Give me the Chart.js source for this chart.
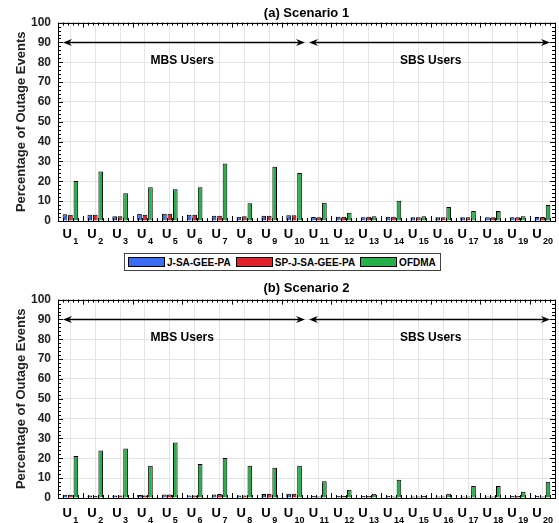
<!DOCTYPE html>
<html>
<head>
<meta charset="utf-8">
<script src="https://cdn.jsdelivr.net/npm/chart.js@4.4.1/dist/chart.umd.min.js"></script>
<style>
  body { margin: 0; background: #fff; font-family: "Liberation Sans", Arial, sans-serif; }
  #wrap { position: relative; width: 559px; height: 523px; }
  .cv { position: absolute; left: 0; }
  #legend { position: absolute; left: 124px; top: 253px; width: 315px; height: 16px;
            border: 1px solid #444; display: flex; align-items: center;
            font-weight: bold; font-size: 10px; color: #000; }
  .sw { width: 35px; height: 8px; border: 1px solid #000; margin-left: 5px; margin-right: 2px; }
  .sw.first { margin-left: 3px; }
</style>
</head>
<body>
<div id="wrap">
  <canvas id="c1" class="cv" style="top:0px" width="559" height="250"></canvas>
  <div id="legend">
    <span class="sw first" style="background:#3a6cf4"></span><span>J-SA-GEE-PA</span>
    <span class="sw" style="background:#e3212b"></span><span>SP-J-SA-GEE-PA</span>
    <span class="sw" style="background:#25b04b"></span><span>OFDMA</span>
  </div>
  <canvas id="c2" class="cv" style="top:277px" width="559" height="246"></canvas>
</div>
<script>
// categories
var users = ['U1','U2','U3','U4','U5','U6','U7','U8','U9','U10',
             'U11','U12','U13','U14','U15','U16','U17','U18','U19','U20'];
var yTicks = [0, 10, 20, 30, 40, 50, 60, 70, 80, 90, 100];
var seriesNames = ['J-SA-GEE-PA', 'SP-J-SA-GEE-PA', 'OFDMA'];
var seriesColors = ['#3a6cf4', '#e3212b', '#25b04b'];

// (a) Scenario 1
var s1Jsa   = [3.4, 3.1, 2.4, 3.6, 3.7, 3.2, 2.7, 2.2, 2.7, 2.9, 2.0, 2.2, 1.9, 2.2, 1.9, 1.9, 1.9, 1.9, 1.9, 2.0];
var s1Sp    = [3.1, 3.1, 2.4, 3.2, 3.7, 3.2, 2.7, 2.4, 2.7, 2.9, 1.9, 2.2, 2.2, 2.2, 1.9, 1.9, 1.9, 1.9, 1.9, 2.0];
var s1Ofdma = [20.2, 25, 14, 17, 16, 17, 29, 9, 27.3, 24.2, 9.2, 4.1, 2.4, 10.2, 2.4, 7, 5.1, 5.1, 2.4, 8.1];

// (b) Scenario 2
var s2Jsa   = [1.7, 1.2, 1.3, 1.5, 1.8, 1.2, 1.8, 1.2, 2.0, 2.2, 1.0, 1.0, 1.0, 1.0, 0.8, 0.7, 0.8, 0.8, 1.0, 1.0];
var s2Sp    = [1.7, 1.0, 1.2, 1.3, 1.8, 1.2, 2.0, 1.2, 2.2, 2.2, 0.8, 1.0, 1.0, 0.8, 0.8, 0.7, 0.8, 0.8, 1.0, 0.8];
var s2Ofdma = [21.2, 24, 25, 16.2, 28, 17.2, 20.2, 16.2, 15.2, 16.2, 8.5, 4.2, 2.2, 9.2, 1.0, 2.2, 6, 6, 3.2, 8.2];

// arrow annotations (x in category index units, y in %)
var groupArrows = [[-0.3, 9.44], [9.6, 19.3]];
var groupLabels = [['MBS Users', 4.5], ['SBS Users', 14.5]];
var arrowY = 90, labelY = 81;

function arrowHead(ctx, x, y, dir) {
  ctx.beginPath();
  ctx.moveTo(x, y);
  ctx.lineTo(x - dir * 9, y - 3.5);
  ctx.lineTo(x - dir * 6, y);
  ctx.lineTo(x - dir * 9, y + 3.5);
  ctx.closePath();
  ctx.fill();
}

var decor = {
  id: 'decor',
  afterDraw: function(chart, args, opts) {
    var ctx = chart.ctx, a = chart.chartArea;
    var x = chart.scales.x, y = chart.scales.y;
    var labOff = opts.labelOffset || 17;
    ctx.save();
    ctx.strokeStyle = '#000';
    ctx.fillStyle = '#000';
    ctx.lineWidth = 1;

    // minor / major ticks, inward, all four sides
    ctx.beginPath();
    for (var v = 0; v <= 100; v += 2) {
      var py = Math.round(y.getPixelForValue(v)) + 0.5;
      var len = (v % 10 === 0) ? 5 : 3;
      ctx.moveTo(a.left, py); ctx.lineTo(a.left + len, py);
      ctx.moveTo(a.right, py); ctx.lineTo(a.right - len, py);
    }
    for (var k = 0; k <= 100; k++) {
      var idx = -0.5 + k * 0.2;
      var px = Math.round(x.getPixelForValue(idx)) + 0.5;
      var l2 = (k % 5 === 0 && k > 0 && k < 100 && (k / 5) % 2 === 1) ? 5 : 3;
      ctx.moveTo(px, a.top); ctx.lineTo(px, a.top + l2);
      ctx.moveTo(px, a.bottom); ctx.lineTo(px, a.bottom - l2);
    }
    ctx.stroke();

    // box
    ctx.strokeRect(Math.round(a.left) + 0.5, Math.round(a.top) + 0.5,
                   Math.round(a.right - a.left), Math.round(a.bottom - a.top));

    // double arrows
    var ay = Math.round(y.getPixelForValue(arrowY)) + 0.5;
    ctx.lineWidth = 1.3;
    groupArrows.forEach(function(g) {
      var x1 = x.getPixelForValue(g[0]), x2 = x.getPixelForValue(g[1]);
      ctx.beginPath();
      ctx.moveTo(x1 + 5, ay); ctx.lineTo(x2 - 5, ay);
      ctx.stroke();
      arrowHead(ctx, x1, ay, -1);
      arrowHead(ctx, x2, ay, 1);
    });

    // group labels
    ctx.font = 'bold 12px "Liberation Sans", Arial, sans-serif';
    ctx.textAlign = 'center';
    ctx.textBaseline = 'middle';
    groupLabels.forEach(function(g) {
      ctx.fillText(g[0], x.getPixelForValue(g[1]), y.getPixelForValue(labelY));
    });

    // category labels with subscripts
    ctx.textAlign = 'left';
    ctx.textBaseline = 'alphabetic';
    var bigFont = 'bold 13px "Liberation Sans", Arial, sans-serif';
    var subFont = 'bold 9px "Liberation Sans", Arial, sans-serif';
    chart.data.labels.forEach(function(lab, i) {
      var main = lab.charAt(0), sub = lab.slice(1);
      ctx.font = bigFont; var w1 = ctx.measureText(main).width;
      ctx.font = subFont; var w2 = ctx.measureText(sub).width;
      var cx = x.getPixelForValue(i);
      var sx = cx - (w1 + 1.5 + w2) / 2;
      ctx.font = bigFont;
      ctx.fillText(main, sx, a.bottom + labOff);
      ctx.font = subFont;
      ctx.fillText(sub, sx + w1 + 1.5, a.bottom + labOff + 5.5);
    });
    ctx.restore();
  }
};

function makeChart(id, title, data, titlePad, canvasH, labelOffset) {
  var sets = data.map(function(d, i) {
    return {
      label: seriesNames[i],
      data: d,
      backgroundColor: seriesColors[i],
      borderColor: '#000',
      borderWidth: 1,
      borderSkipped: 'bottom',
      categoryPercentage: 0.66,
      barPercentage: 0.85
    };
  });
  return new Chart(document.getElementById(id), {
    type: 'bar',
    data: { labels: users, datasets: sets },
    options: {
      responsive: false,
      animation: false,
      layout: { padding: { left: 0, right: 4, top: 0, bottom: 0 } },
      plugins: {
        legend: { display: false },
        tooltip: { enabled: false },
        decor: { labelOffset: labelOffset },
        title: {
          display: true,
          text: title,
          fullSize: false,
          color: '#000',
          font: { family: '"Liberation Sans", Arial, sans-serif', size: 13, weight: 'bold' },
          padding: titlePad
        }
      },
      scales: {
        x: {
          offset: true,
          grid: { offset: false, color: '#e4e4e4', drawTicks: false },
          border: { display: false },
          ticks: { display: false },
          afterFit: function(s) { s.height = canvasH - 221; }
        },
        y: {
          min: 0, max: 100,
          afterBuildTicks: function(s) { s.ticks = yTicks.map(function(v) { return { value: v }; }); },
          grid: { color: '#e4e4e4', drawTicks: false },
          border: { display: false },
          ticks: {
            padding: 7,
            color: '#222',
            font: { family: '"Liberation Sans", Arial, sans-serif', size: 12, weight: 'bold' }
          },
          title: {
            display: true,
            text: 'Percentage of Outage Events',
            color: '#222',
            font: { family: '"Liberation Sans", Arial, sans-serif', size: 13, weight: 'bold' },
            padding: { top: 14, bottom: 0 }
          },
          afterFit: function(s) { s.width = 58; }
        }
      }
    },
    plugins: [decor]
  });
}

makeChart('c1', '(a) Scenario 1', [s1Jsa, s1Sp, s1Ofdma], { top: 6, bottom: 1 }, 250, 17);
makeChart('c2', '(b) Scenario 2', [s2Jsa, s2Sp, s2Ofdma], { top: 3.5, bottom: 3.5 }, 246, 19);
</script>
</body>
</html>
